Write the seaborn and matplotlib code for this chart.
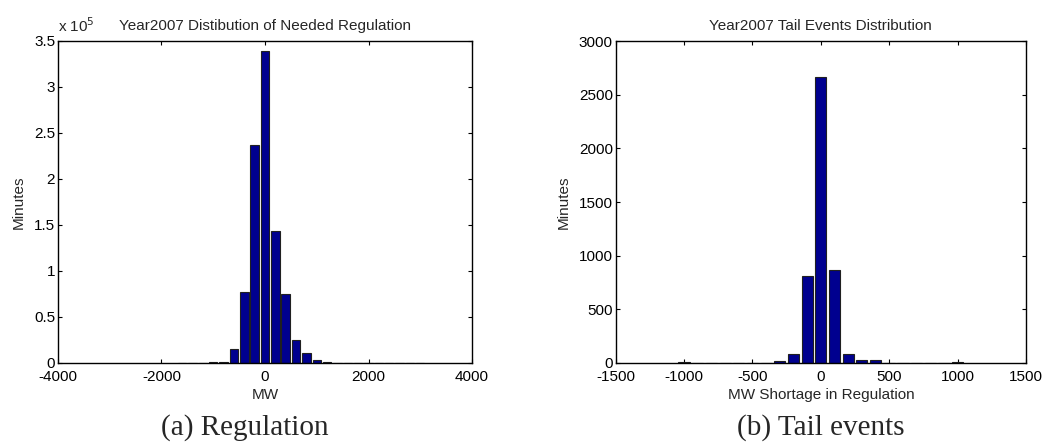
import numpy as np
import pandas as pd
import matplotlib
matplotlib.use("Agg")
import matplotlib.pyplot as plt
import seaborn as sns
from matplotlib.ticker import FuncFormatter

# ---- data ----
reg_centers = [-1600, -1400, -1200, -1000, -800, -600, -400, -200, 0, 200, 400,
               600, 800, 1000, 1200, 1400, 1600, 1800, 2000, 2200, 2400, 2600,
               2800, 3000]
reg_minutes = [300, 300, 400, 600, 1200, 15700, 77000, 236500, 339000, 143000,
               75000, 25500, 10500, 3000, 800, 300, 200, 200, 150, 100, 100,
               100, 100, 100]

tail_centers = [-1000, -900, -800, -700, -600, -500, -400, -300, -200, -100, 0,
                100, 200, 300, 400, 500, 600, 700, 800, 900, 1000]
tail_minutes = [5, 2, 3, 4, 4, 3, 2, 15, 80, 815, 2665, 868, 87, 32, 25,
                2, 2, 1, 1, 1, 5]

reg_xticks = [-4000, -2000, 0, 2000, 4000]
reg_yticks = [0, 0.5e5, 1e5, 1.5e5, 2e5, 2.5e5, 3e5, 3.5e5]
tail_xticks = [-1500, -1000, -500, 0, 500, 1000, 1500]
tail_yticks = [0, 500, 1000, 1500, 2000, 2500, 3000]

sns.set_style("white")
plt.rcParams['font.family'] = ['Liberation Sans', 'DejaVu Sans']
plt.rcParams['axes.unicode_minus'] = False

BAR = "#00008F"
fig = plt.figure(figsize=(10.44, 4.43), dpi=100)
ax1 = fig.add_axes([58/1044, 80/443, 414/1044, 322/443])
ax2 = fig.add_axes([615.7/1044, 80/443, 410.3/1044, 322/443])

df1 = pd.DataFrame({"MW": reg_centers, "Minutes": reg_minutes})
df2 = pd.DataFrame({"MW": tail_centers, "Minutes": tail_minutes})

sns.histplot(data=df1, x="MW", weights="Minutes", binwidth=200,
             binrange=(min(reg_centers) - 100, max(reg_centers) + 100),
             shrink=0.82, color=BAR, edgecolor="#202020", linewidth=0.8,
             alpha=1, ax=ax1)
sns.histplot(data=df2, x="MW", weights="Minutes", binwidth=100,
             binrange=(min(tail_centers) - 50, max(tail_centers) + 50),
             shrink=0.82, color=BAR, edgecolor="#202020", linewidth=0.8,
             alpha=1, ax=ax2)

fs = 11
for ax in (ax1, ax2):
    for s in ax.spines.values():
        s.set_visible(True)
        s.set_color("black")
        s.set_linewidth(1.0)
    ax.tick_params(direction="in", length=3, width=0.8, top=True, right=True,
                   bottom=True, left=True, labelsize=fs, colors="black")
    ax.tick_params(axis="x", pad=5)
    ax.tick_params(axis="y", pad=2)

ax1.set_xlim(-4000, 4000)
ax1.set_ylim(0, 3.5e5)
ax1.set_xticks(reg_xticks)
ax1.set_yticks(reg_yticks)
ax1.yaxis.set_major_formatter(FuncFormatter(lambda v, p: f"{v/1e5:g}"))
ax1.set_xlabel("MW", fontsize=fs, labelpad=3)
ax1.set_ylabel("Minutes", fontsize=fs, labelpad=6)
ax1.set_title("Year2007 Distibution of Needed Regulation", fontsize=fs, pad=8)
ax1.text(0.0, 1.02, "x 10$^{5}$", transform=ax1.transAxes, fontsize=fs,
         ha="left", va="bottom")

ax2.set_xlim(-1500, 1500)
ax2.set_ylim(0, 3000)
ax2.set_xticks(tail_xticks)
ax2.set_yticks(tail_yticks)
ax2.set_xlabel("MW Shortage in Regulation", fontsize=fs, labelpad=3)
ax2.set_ylabel("Minutes", fontsize=fs, labelpad=6)
ax2.set_title("Year2007 Tail Events Distribution", fontsize=fs, pad=8)

fig.text(245/1044, 1 - 428/443, "(a) Regulation", family="Liberation Serif",
         fontsize=21, ha="center", va="center")
fig.text(821/1044, 1 - 428/443, "(b) Tail events", family="Liberation Serif",
         fontsize=21, ha="center", va="center")

fig.savefig("out.png", dpi=100, facecolor="white")
